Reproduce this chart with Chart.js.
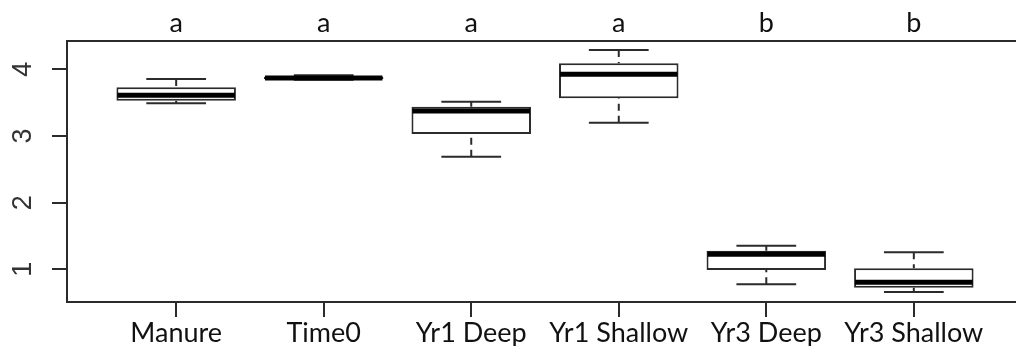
<!DOCTYPE html>
<html>
<head>
<meta charset="utf-8">
<script src="https://cdn.jsdelivr.net/npm/chart.js@4/dist/chart.umd.min.js"></script>
<style>
  html, body { margin: 0; padding: 0; background: #fff; overflow: hidden; }
  #wrap { position: relative; width: 1030px; height: 346px; }
</style>
</head>
<body>
<div id="wrap"><canvas id="c"></canvas></div>
<script>
// Groups and their five-number summaries
const categories = ['Manure', 'Time0', 'Yr1 Deep', 'Yr1 Shallow', 'Yr3 Deep', 'Yr3 Shallow'];
const whiskerLow  = [3.49, 3.845, 2.69, 3.20, 0.775, 0.66];
const quartile1   = [3.53, 3.855, 3.03, 3.565, 0.99, 0.724];
const medians     = [3.61, 3.870, 3.375, 3.925, 1.225, 0.805];
const quartile3   = [3.73, 3.885, 3.44, 4.09, 1.28, 1.015];
const whiskerHigh = [3.855, 3.91, 3.514, 4.29, 1.354, 1.255];
const groupLetters = ['a', 'a', 'a', 'a', 'b', 'b'];
const yTickValues = [1, 2, 3, 4];

const LINE = '#2b2b2b';

const boxPlugin = {
  id: 'boxExtras',
  afterDatasetsDraw(chart) {
    const ctx = chart.ctx;
    const xs = chart.scales.x, ys = chart.scales.y;
    const meta = chart.getDatasetMeta(0);
    const area = chart.chartArea;
    ctx.save();
    // top frame line
    ctx.strokeStyle = LINE;
    ctx.lineWidth = 2;
    ctx.beginPath();
    ctx.moveTo(area.left - 1, area.top);
    ctx.lineTo(area.right + 1, area.top);
    ctx.stroke();

    categories.forEach((c, i) => {
      const el = meta.data[i];
      const cx = el.x;
      const half = el.width / 2;
      // dashed whiskers, drawn from the staple toward the box
      ctx.strokeStyle = LINE;
      ctx.lineWidth = 2;
      ctx.setLineDash([7, 5]);
      ctx.beginPath();
      ctx.moveTo(cx, ys.getPixelForValue(whiskerLow[i]));
      ctx.lineTo(cx, ys.getPixelForValue(quartile1[i]));
      ctx.moveTo(cx, ys.getPixelForValue(whiskerHigh[i]));
      ctx.lineTo(cx, ys.getPixelForValue(quartile3[i]));
      ctx.stroke();
      ctx.setLineDash([]);
      // staples
      ctx.beginPath();
      ctx.moveTo(cx - half / 2, ys.getPixelForValue(whiskerLow[i]));
      ctx.lineTo(cx + half / 2, ys.getPixelForValue(whiskerLow[i]));
      ctx.moveTo(cx - half / 2, ys.getPixelForValue(whiskerHigh[i]));
      ctx.lineTo(cx + half / 2, ys.getPixelForValue(whiskerHigh[i]));
      ctx.stroke();
      // median
      ctx.strokeStyle = '#000';
      ctx.lineWidth = 5;
      ctx.beginPath();
      ctx.moveTo(cx - half + 1, ys.getPixelForValue(medians[i]));
      ctx.lineTo(cx + half - 1, ys.getPixelForValue(medians[i]));
      ctx.stroke();
      // group letter above the frame
      ctx.fillStyle = '#111';
      ctx.font = '27px Lato';
      ctx.textAlign = 'center';
      ctx.textBaseline = 'alphabetic';
      ctx.fillText(groupLetters[i], xs.getPixelForValue(i + 1), 32);
    });

    // rotated y tick labels
    ctx.fillStyle = '#333';
    ctx.font = '27px "Liberation Sans"';
    ctx.textAlign = 'center';
    ctx.textBaseline = 'alphabetic';
    ys.ticks.forEach(t => {
      const py = ys.getPixelForValue(t.value);
      ctx.save();
      ctx.translate(31, py);
      ctx.rotate(-Math.PI / 2);
      ctx.fillText(String(t.value), 0, 0);
      ctx.restore();
    });
    ctx.restore();
  }
};

new Chart(document.getElementById('c'), {
  type: 'bar',
  data: {
    datasets: [{
      data: categories.map((c, i) => ({ x: i + 1, y: [quartile1[i], quartile3[i]] })),
      backgroundColor: '#fff',
      borderColor: LINE,
      borderWidth: 2,
      borderSkipped: false,
      barPercentage: 1,
      categoryPercentage: 0.81
    }]
  },
  options: {
    responsive: true,
    maintainAspectRatio: false,
    animation: false,
    layout: { padding: { top: 41, right: 7, left: 0, bottom: 0 } },
    plugins: { legend: { display: false }, tooltip: { enabled: false } },
    scales: {
      x: {
        type: 'linear',
        offset: false,
        min: 0.26,
        max: 6.74,
        afterBuildTicks: s => { s.ticks = categories.map((c, i) => ({ value: i + 1 })); },
        afterFit: s => { s.height = 44; },
        grid: { offset: false, drawOnChartArea: false, drawTicks: true, tickLength: 15, color: LINE, lineWidth: 2 },
        border: { display: true, color: LINE, width: 2 },
        ticks: {
          autoSkip: false, maxRotation: 0, minRotation: 0, padding: 0,
          color: '#111', font: { family: 'Lato', size: 27 },
          callback: v => categories[v - 1]
        }
      },
      y: {
        min: 0.51,
        max: 4.425,
        afterBuildTicks: s => { s.ticks = yTickValues.map(v => ({ value: v })); },
        afterFit: s => { s.width = 67; },
        grid: { drawOnChartArea: false, drawTicks: true, tickLength: 15, color: LINE, lineWidth: 2 },
        border: { display: true, color: LINE, width: 2 },
        ticks: { display: false }
      }
    }
  },
  plugins: [boxPlugin]
});
</script>
</body>
</html>
